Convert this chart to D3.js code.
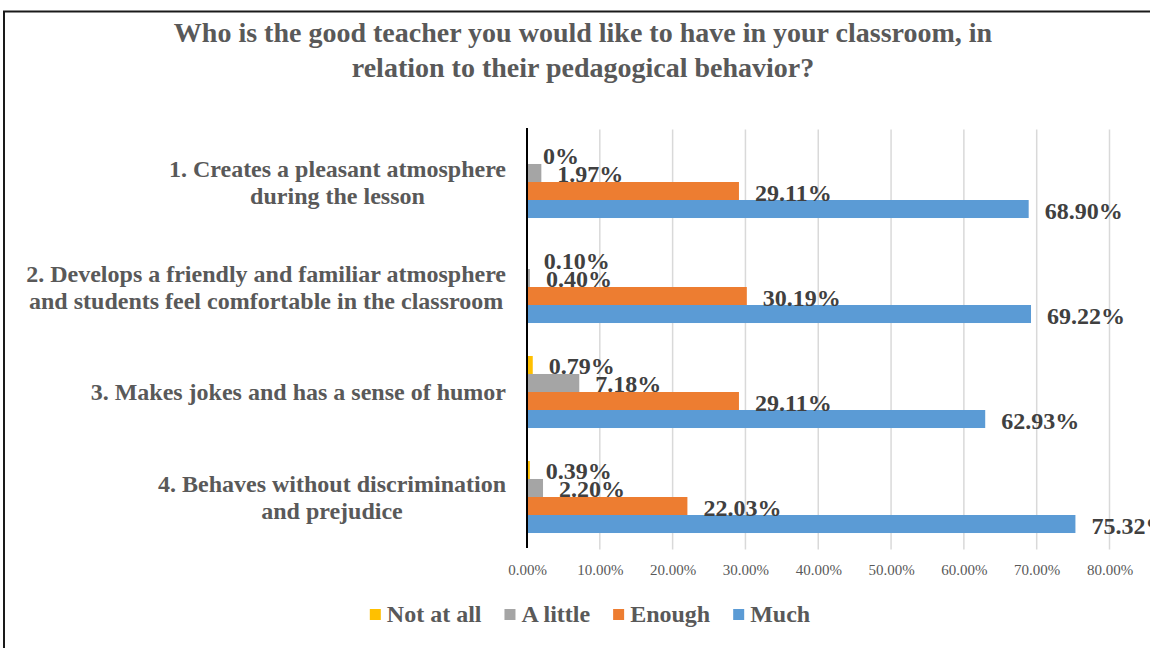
<!DOCTYPE html>
<html>
<head>
<meta charset="utf-8">
<script src="https://cdn.jsdelivr.net/npm/d3@7"></script>
<style>
  html, body { margin: 0; padding: 0; background: #fff; overflow: hidden; }
  svg { display: block; }
  text { font-family: "Liberation Serif", "Times New Roman", serif; }
</style>
</head>
<body>
<svg id="chart" width="1150" height="648"></svg>
<script>
// ---- data ----
const titleLines = [
  "Who is the good teacher you would like to have in your classroom, in",
  "relation to their pedagogical behavior?"
];
const categories = [
  ["1. Creates a pleasant atmosphere", "during the lesson"],
  ["2. Develops a friendly and familiar atmosphere", "and students feel comfortable in the classroom"],
  ["3. Makes jokes and has a sense of humor"],
  ["4. Behaves without discrimination", "and prejudice"]
];
const seriesNames = ["Not at all", "A little", "Enough", "Much"];
const notAtAll = [0, 0.10, 0.79, 0.39];
const aLittle  = [1.97, 0.40, 7.18, 2.20];
const enough   = [29.11, 30.19, 29.11, 22.03];
const much     = [68.90, 69.22, 62.93, 75.32];
const tickValues = [0, 10, 20, 30, 40, 50, 60, 70, 80];

const seriesValues = [notAtAll, aLittle, enough, much];
const colors = ["#FFC000", "#A5A5A5", "#ED7D31", "#5B9BD5"];

// ---- layout ----
const svg = d3.select("#chart");
const plotLeft = 527, plotRight = 1109.5;
const plotTop = 129.5, plotBottom = 549.5;

// border
svg.append("rect")
  .attr("x", 4).attr("y", 11.5)
  .attr("width", 1158).attr("height", 660)
  .attr("fill", "none").attr("stroke", "#1a1a1a").attr("stroke-width", 2);

// title
svg.append("g").selectAll("text").data(titleLines).join("text")
  .attr("x", 583).attr("y", (d, i) => 42 + i * 34.5)
  .attr("text-anchor", "middle")
  .attr("font-size", 28).attr("font-weight", "bold")
  .attr("fill", "#595959")
  .text(d => d);

const x = d3.scaleLinear().domain([0, 80]).range([plotLeft, plotRight]);
const y0 = d3.scaleBand().domain(d3.range(categories.length))
  .range([plotTop, plotBottom]).paddingInner(0.314).paddingOuter(0.157);
const y1 = d3.scaleBand().domain(d3.range(seriesNames.length))
  .range([0, y0.bandwidth()]).padding(0);

// gridlines
svg.append("g").selectAll("line").data(tickValues.filter(t => t > 0)).join("line")
  .attr("x1", d => x(d)).attr("x2", d => x(d))
  .attr("y1", plotTop).attr("y2", plotBottom)
  .attr("stroke", "#D9D9D9").attr("stroke-width", 1.5);

// x axis tick labels
const xAxis = d3.axisBottom(x).tickValues(tickValues)
  .tickFormat(d => d.toFixed(2) + "%").tickSize(0).tickPadding(0);
const gx = svg.append("g").attr("transform", `translate(0, ${plotBottom})`).call(xAxis);
gx.select(".domain").remove();
gx.selectAll("text")
  .attr("y", 25).attr("dy", null)
  .attr("font-size", 15).attr("fill", "#595959")
  .style("font-family", '"Liberation Serif", "Times New Roman", serif');

// bars
const rows = [];
categories.forEach((c, ci) => {
  seriesValues.forEach((vals, si) => rows.push({ ci, si, v: vals[ci] }));
});
svg.append("g").selectAll("rect").data(rows).join("rect")
  .attr("x", x(0))
  .attr("y", d => y0(d.ci) + y1(d.si))
  .attr("width", d => x(d.v) - x(0))
  .attr("height", y1.bandwidth())
  .attr("fill", d => colors[d.si]);

// data labels
svg.append("g").selectAll("text").data(rows).join("text")
  .attr("x", d => x(d.v) + 16)
  .attr("y", d => y0(d.ci) + y1(d.si) + y1.bandwidth() / 2 + 9.5)
  .attr("font-size", 24).attr("font-weight", "bold")
  .attr("fill", "#404040")
  .text(d => d.v === 0 ? "0%" : d.v.toFixed(2) + "%");

// y axis line
svg.append("line")
  .attr("x1", plotLeft).attr("x2", plotLeft)
  .attr("y1", plotTop - 1.5).attr("y2", plotBottom - 1.5)
  .attr("stroke", "#000").attr("stroke-width", 2);

// category labels
const lineH = 27;
const labelRight = 506;
categories.forEach((lines, ci) => {
  const cy = y0(ci) + y0.bandwidth() / 2;
  const g = svg.append("g");
  const texts = g.selectAll("text").data(lines).join("text")
    .attr("font-size", 24).attr("font-weight", "bold")
    .attr("fill", "#595959")
    .attr("text-anchor", "middle")
    .text(d => d);
  let maxW = 0;
  texts.each(function () { maxW = Math.max(maxW, this.getComputedTextLength()); });
  const n = lines.length;
  texts.attr("x", labelRight - maxW / 2)
    .attr("y", (d, i) => cy + 8 + (i - (n - 1) / 2) * lineH);
});

// legend
const legend = svg.append("g");
const items = legend.selectAll("g").data(seriesNames).join("g");
items.append("rect").attr("width", 11).attr("height", 11)
  .attr("y", 609).attr("fill", (d, i) => colors[i]);
items.append("text").attr("x", 17).attr("y", 622)
  .attr("font-size", 24).attr("font-weight", "bold").attr("fill", "#595959")
  .text(d => d);
let widths = [];
items.select("text").each(function () { widths.push(17 + this.getComputedTextLength()); });
const gap = 23;
const total = d3.sum(widths) + gap * (widths.length - 1);
let cx = 590 - total / 2;
items.attr("transform", (d, i) => {
  const t = `translate(${cx},0)`;
  cx += widths[i] + gap;
  return t;
});
</script>
</body>
</html>
